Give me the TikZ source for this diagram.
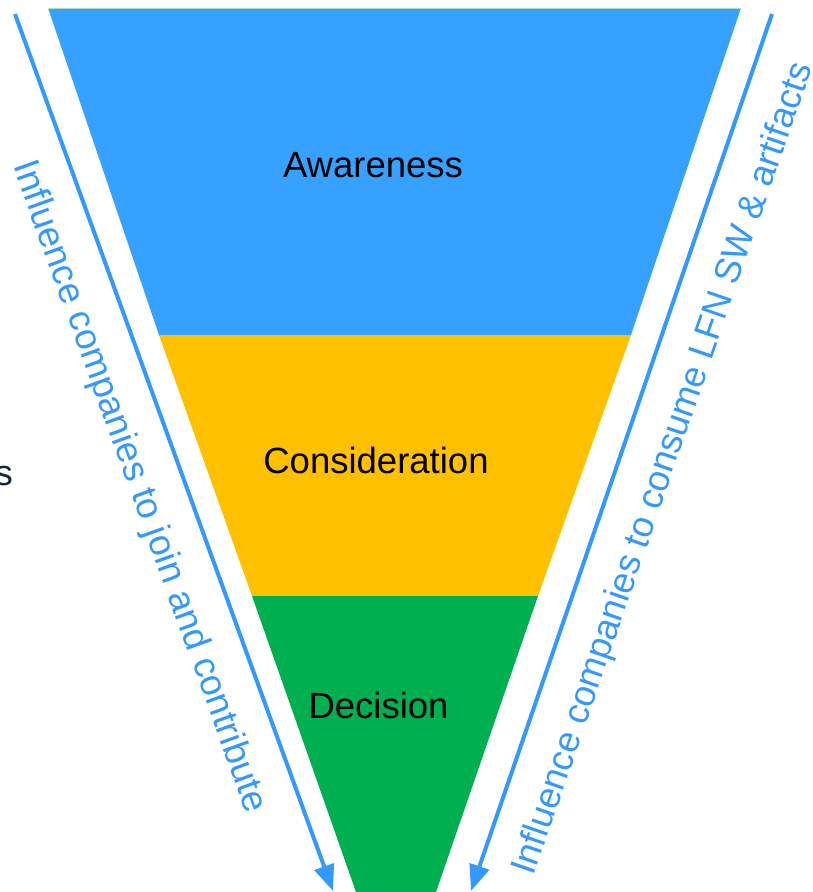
\documentclass[tikz,border=0pt]{standalone}
\usepackage{fontspec}
\setmainfont{Liberation Sans}
\usetikzlibrary{arrows.meta}
\definecolor{funnelblue}{RGB}{54,161,255}
\definecolor{funnelyellow}{RGB}{255,192,0}
\definecolor{funnelgreen}{RGB}{0,176,80}
\definecolor{arrowblue}{RGB}{51,153,255}
\definecolor{navytext}{RGB}{20,35,70}
\definecolor{paleline}{RGB}{170,225,190}
\tikzset{
  stagelabel/.style={font=\fontsize{36.5}{40}\selectfont, text=black, inner sep=0pt, anchor=base},
  sidelabel/.style={font=\fontsize{36.8}{40}\selectfont, text=arrowblue, inner sep=0pt},
  flowarrow/.style={draw=arrowblue, line width=4pt, -{Triangle[length=26pt,width=20pt]}},
}
\begin{document}
\begin{tikzpicture}[x=1pt,y=-1pt]
\useasboundingbox (0,0) rectangle (813,892);
% funnel corners
\coordinate (tl) at (48,8);
\coordinate (tr) at (741,8);
\coordinate (l1) at (159,335);
\coordinate (r1) at (631,335);
\coordinate (l2) at (252,596);
\coordinate (r2) at (538,596);
\coordinate (bl) at (356,892);
\coordinate (br) at (436,892);
% bands
\fill[funnelblue] (tl) -- (tr) -- (r1) -- (l1) -- cycle;
\fill[funnelyellow] (l1) -- (r1) -- (r2) -- (l2) -- cycle;
\fill[funnelgreen] (l2) -- (r2) -- (br) -- (bl) -- cycle;
\draw[paleline, line width=1pt] (tl) -- (tr);
% stage labels
\node[stagelabel] (aw) at (373,177) {Awareness};
\node[stagelabel] (co) at (376,473) {Consideration};
\node[stagelabel] (de) at (378.5,718) {Decision};
% arrows
\coordinate (las) at (15,14);
\coordinate (lae) at (333,891);
\coordinate (ras) at (772,14);
\coordinate (rae) at (471,891);
\draw[flowarrow] (las) -- (lae);
\draw[flowarrow] (ras) -- (rae);
% side labels
\node[sidelabel, rotate=-70.2] (lt) at (139,487) {Influence companies to join and contribute};
\node[sidelabel, rotate=71, font=\fontsize{36.6}{40}\selectfont] (rt) at (664,469) {Influence companies to consume LFN SW \& artifacts};
% cut-off text at left edge
\node[font=\fontsize{36}{40}\selectfont, text=navytext, inner sep=0pt, anchor=base east] (cut) at (13,485) {s};
\end{tikzpicture}
\end{document}
